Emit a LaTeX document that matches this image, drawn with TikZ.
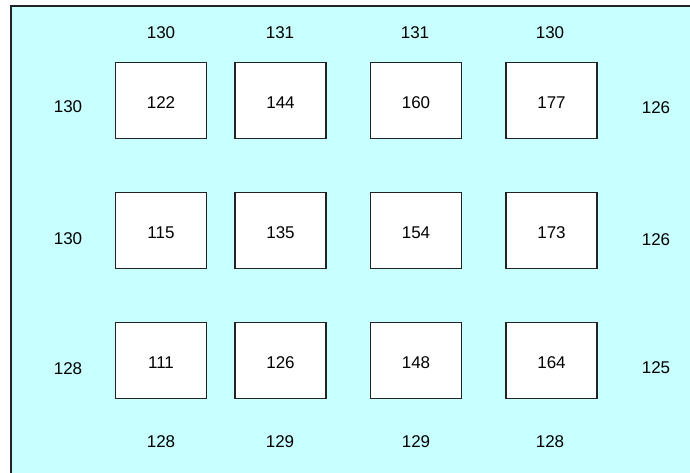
\documentclass[tikz,border=0pt]{standalone}
\usepackage{fontspec}
\setmainfont{Liberation Sans}
\definecolor{bgcyan}{RGB}{200,255,255}
\definecolor{edge}{RGB}{34,34,34}
\begin{document}
\begin{tikzpicture}[x=1pt,y=-1pt,
  cell/.style={draw=edge,line width=1.4pt,fill=white,minimum width=91pt,minimum height=76pt,inner sep=0pt,text depth=0pt,text height=16pt,font=\fontsize{17}{17}\selectfont},
  val/.style={inner sep=0pt,text depth=0pt,font=\fontsize{17}{17}\selectfont}]
\useasboundingbox (0,0) rectangle (690,472);
\fill[white] (0,0) rectangle (690,472);
\fill[bgcyan] (11,6) rectangle (692,474);
\draw[edge,line width=1.6pt] (11,474) -- (11,6) -- (692,6);
% boxes
\node[cell] (b11) at (161,100.5) {122};
\node[cell] (b12) at (280.5,100.5) {144};
\node[cell] (b13) at (416,100.5) {160};
\node[cell] (b14) at (551.5,100.5) {177};
\node[cell] (b21) at (161,230.5) {115};
\node[cell] (b22) at (280.5,230.5) {135};
\node[cell] (b23) at (416,230.5) {154};
\node[cell] (b24) at (551.5,230.5) {173};
\node[cell] (b31) at (161,360.5) {111};
\node[cell] (b32) at (280.5,360.5) {126};
\node[cell] (b33) at (416,360.5) {148};
\node[cell] (b34) at (551.5,360.5) {164};
% top labels
\node[val] (t1) at (161,33) {130};
\node[val] (t2) at (280,33) {131};
\node[val] (t3) at (415,33) {131};
\node[val] (t4) at (550,33) {130};
% bottom labels
\node[val] (u1) at (161,442) {128};
\node[val] (u2) at (280,442) {129};
\node[val] (u3) at (416,442) {129};
\node[val] (u4) at (550,442) {128};
% left labels
\node[val] (l1) at (68,107) {130};
\node[val] (l2) at (68,239) {130};
\node[val] (l3) at (68,369) {128};
% right labels
\node[val] (r1) at (656,108) {126};
\node[val] (r2) at (656,240) {126};
\node[val] (r3) at (656,368) {125};
\end{tikzpicture}
\end{document}
